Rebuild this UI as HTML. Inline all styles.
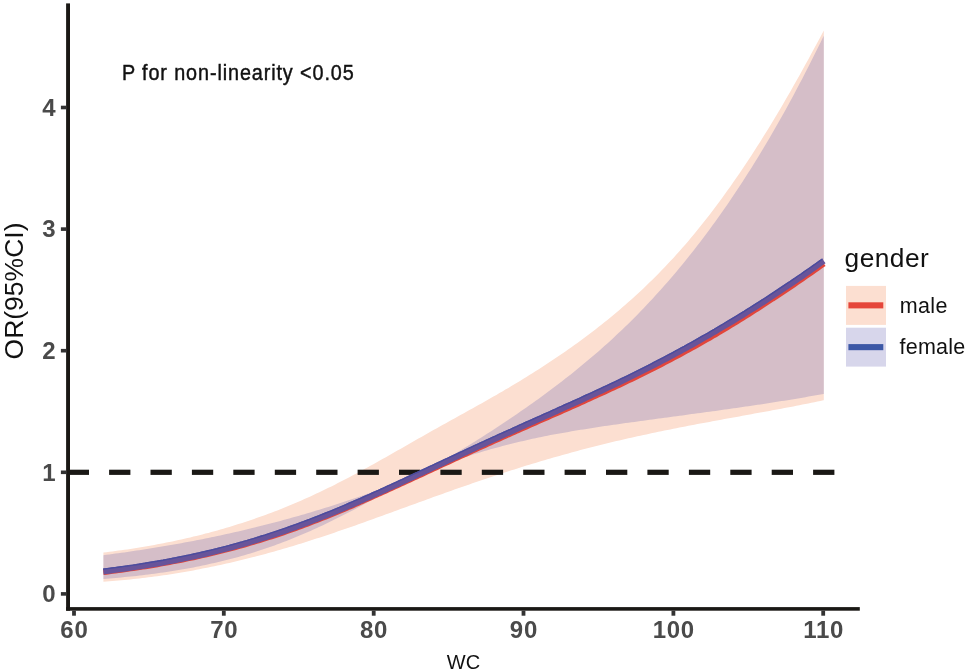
<!DOCTYPE html>
<html lang="en"><head><meta charset="utf-8"><title>OR(95%CI) by WC and gender</title>
<style>html,body{margin:0;padding:0;background:#fff}body{width:967px;height:672px;overflow:hidden}</style>
</head><body>
<svg width="967" height="672" viewBox="0 0 967 672" style="display:block;font-family:'Liberation Sans', Arial, Helvetica, sans-serif">
<rect width="967" height="672" fill="#fff"/>
<polygon points="103.4,552.6 106.4,552.2 109.4,551.8 112.4,551.5 115.4,551.1 118.4,550.6 121.4,550.2 124.4,549.8 127.4,549.4 130.4,548.9 133.4,548.4 136.4,548.0 139.4,547.5 142.4,547.0 145.4,546.5 148.4,546.0 151.4,545.4 154.4,544.9 157.4,544.3 160.4,543.8 163.4,543.2 166.4,542.6 169.4,542.0 172.4,541.4 175.4,540.7 178.4,540.1 181.4,539.4 184.4,538.7 187.4,538.1 190.4,537.4 193.4,536.6 196.4,535.9 199.4,535.2 202.4,534.4 205.4,533.6 208.4,532.9 211.4,532.1 214.4,531.2 217.4,530.4 220.4,529.6 223.4,528.7 226.4,527.8 229.4,526.9 232.4,526.0 235.4,525.1 238.4,524.1 241.4,523.2 244.4,522.2 247.4,521.2 250.4,520.2 253.4,519.2 256.4,518.1 259.4,517.1 262.4,516.0 265.4,514.9 268.4,513.8 271.4,512.7 274.4,511.5 277.4,510.4 280.4,509.2 283.4,508.0 286.4,506.8 289.4,505.5 292.4,504.3 295.4,503.0 298.4,501.7 301.4,500.4 304.4,499.1 307.4,497.7 310.4,496.4 313.4,495.0 316.4,493.6 319.4,492.2 322.4,490.7 325.4,489.3 328.4,487.8 331.4,486.4 334.4,484.9 337.4,483.3 340.4,481.8 343.4,480.3 346.4,478.7 349.4,477.2 352.4,475.6 355.4,474.0 358.4,472.4 361.4,470.7 364.4,469.1 367.4,467.5 370.4,465.8 373.4,464.2 376.4,462.5 379.4,460.8 382.4,459.1 385.4,457.4 388.4,455.7 391.4,454.0 394.4,452.3 397.4,450.6 400.4,448.9 403.4,447.2 406.4,445.4 409.4,443.7 412.4,442.0 415.4,440.3 418.4,438.6 421.4,436.9 424.4,435.2 427.4,433.5 430.4,431.8 433.4,430.1 436.4,428.4 439.4,426.8 442.4,425.1 445.4,423.4 448.4,421.8 451.4,420.1 454.4,418.4 457.4,416.8 460.4,415.1 463.4,413.4 466.4,411.8 469.4,410.1 472.4,408.4 475.4,406.8 478.4,405.1 481.4,403.4 484.4,401.7 487.4,400.0 490.4,398.3 493.4,396.6 496.4,394.9 499.4,393.1 502.4,391.4 505.4,389.6 508.4,387.9 511.4,386.1 514.4,384.3 517.4,382.5 520.4,380.7 523.4,378.8 526.4,377.0 529.4,375.1 532.4,373.2 535.4,371.3 538.4,369.4 541.4,367.5 544.4,365.5 547.4,363.6 550.4,361.6 553.4,359.6 556.4,357.6 559.4,355.5 562.4,353.5 565.4,351.4 568.4,349.3 571.4,347.2 574.4,345.0 577.4,342.9 580.4,340.7 583.4,338.5 586.4,336.2 589.4,334.0 592.4,331.7 595.4,329.4 598.4,327.0 601.4,324.7 604.4,322.3 607.4,319.9 610.4,317.4 613.4,314.9 616.4,312.4 619.4,309.9 622.4,307.3 625.4,304.7 628.4,302.1 631.4,299.4 634.4,296.7 637.4,294.0 640.4,291.2 643.4,288.4 646.4,285.5 649.4,282.6 652.4,279.7 655.4,276.7 658.4,273.7 661.4,270.6 664.4,267.5 667.4,264.3 670.4,261.1 673.4,257.9 676.4,254.6 679.4,251.2 682.4,247.8 685.4,244.4 688.4,240.9 691.4,237.3 694.4,233.7 697.4,230.0 700.4,226.3 703.4,222.6 706.4,218.8 709.4,214.9 712.4,211.0 715.4,207.0 718.4,203.0 721.4,198.9 724.4,194.8 727.4,190.6 730.4,186.4 733.4,182.1 736.4,177.8 739.4,173.4 742.4,169.0 745.4,164.5 748.4,160.0 751.4,155.4 754.4,150.8 757.4,146.1 760.4,141.4 763.4,136.6 766.4,131.7 769.4,126.9 772.4,121.9 775.4,117.0 778.4,111.9 781.4,106.9 784.4,101.7 787.4,96.6 790.4,91.4 793.4,86.1 796.4,80.8 799.4,75.5 802.4,70.1 805.4,64.6 808.4,59.2 811.4,53.6 814.4,48.1 817.4,42.5 820.4,36.9 823.4,31.2 823.8,30.5 823.8,400.2 823.4,400.3 820.4,400.9 817.4,401.5 814.4,402.2 811.4,402.8 808.4,403.4 805.4,404.0 802.4,404.6 799.4,405.2 796.4,405.8 793.4,406.4 790.4,406.9 787.4,407.5 784.4,408.1 781.4,408.7 778.4,409.2 775.4,409.8 772.4,410.3 769.4,410.9 766.4,411.4 763.4,412.0 760.4,412.5 757.4,413.1 754.4,413.6 751.4,414.2 748.4,414.7 745.4,415.3 742.4,415.8 739.4,416.4 736.4,416.9 733.4,417.5 730.4,418.0 727.4,418.6 724.4,419.1 721.4,419.7 718.4,420.2 715.4,420.8 712.4,421.3 709.4,421.9 706.4,422.4 703.4,423.0 700.4,423.5 697.4,424.1 694.4,424.7 691.4,425.3 688.4,425.8 685.4,426.4 682.4,427.0 679.4,427.6 676.4,428.2 673.4,428.8 670.4,429.4 667.4,430.0 664.4,430.6 661.4,431.2 658.4,431.8 655.4,432.5 652.4,433.1 649.4,433.7 646.4,434.4 643.4,435.0 640.4,435.7 637.4,436.3 634.4,437.0 631.4,437.7 628.4,438.3 625.4,439.0 622.4,439.7 619.4,440.4 616.4,441.1 613.4,441.8 610.4,442.5 607.4,443.3 604.4,444.0 601.4,444.7 598.4,445.5 595.4,446.2 592.4,447.0 589.4,447.8 586.4,448.5 583.4,449.3 580.4,450.1 577.4,450.9 574.4,451.7 571.4,452.5 568.4,453.4 565.4,454.2 562.4,455.0 559.4,455.9 556.4,456.7 553.4,457.6 550.4,458.4 547.4,459.3 544.4,460.2 541.4,461.1 538.4,462.0 535.4,462.9 532.4,463.8 529.4,464.7 526.4,465.6 523.4,466.5 520.4,467.5 517.4,468.4 514.4,469.4 511.4,470.3 508.4,471.3 505.4,472.3 502.4,473.2 499.4,474.2 496.4,475.2 493.4,476.2 490.4,477.2 487.4,478.2 484.4,479.2 481.4,480.3 478.4,481.3 475.4,482.3 472.4,483.3 469.4,484.4 466.4,485.4 463.4,486.5 460.4,487.5 457.4,488.6 454.4,489.6 451.4,490.7 448.4,491.8 445.4,492.8 442.4,493.9 439.4,495.0 436.4,496.1 433.4,497.1 430.4,498.2 427.4,499.3 424.4,500.4 421.4,501.5 418.4,502.6 415.4,503.7 412.4,504.8 409.4,505.8 406.4,506.9 403.4,508.0 400.4,509.1 397.4,510.2 394.4,511.3 391.4,512.4 388.4,513.5 385.4,514.6 382.4,515.7 379.4,516.8 376.4,517.8 373.4,518.9 370.4,520.0 367.4,521.1 364.4,522.2 361.4,523.2 358.4,524.3 355.4,525.4 352.4,526.4 349.4,527.5 346.4,528.5 343.4,529.6 340.4,530.6 337.4,531.6 334.4,532.7 331.4,533.7 328.4,534.7 325.4,535.7 322.4,536.7 319.4,537.7 316.4,538.6 313.4,539.6 310.4,540.6 307.4,541.5 304.4,542.5 301.4,543.4 298.4,544.3 295.4,545.3 292.4,546.2 289.4,547.1 286.4,548.0 283.4,548.8 280.4,549.7 277.4,550.6 274.4,551.4 271.4,552.2 268.4,553.1 265.4,553.9 262.4,554.7 259.4,555.5 256.4,556.3 253.4,557.1 250.4,557.8 247.4,558.6 244.4,559.3 241.4,560.1 238.4,560.8 235.4,561.5 232.4,562.2 229.4,562.9 226.4,563.6 223.4,564.2 220.4,564.9 217.4,565.6 214.4,566.2 211.4,566.8 208.4,567.4 205.4,568.0 202.4,568.6 199.4,569.2 196.4,569.8 193.4,570.4 190.4,570.9 187.4,571.4 184.4,572.0 181.4,572.5 178.4,573.0 175.4,573.5 172.4,573.9 169.4,574.4 166.4,574.9 163.4,575.3 160.4,575.7 157.4,576.2 154.4,576.6 151.4,577.0 148.4,577.3 145.4,577.7 142.4,578.1 139.4,578.4 136.4,578.8 133.4,579.1 130.4,579.4 127.4,579.7 124.4,580.0 121.4,580.3 118.4,580.6 115.4,580.8 112.4,581.1 109.4,581.3 106.4,581.6 103.4,581.8" fill="#fcdfd1"/>
<polygon points="103.4,555.2 106.4,554.8 109.4,554.4 112.4,554.0 115.4,553.6 118.4,553.2 121.4,552.8 124.4,552.4 127.4,552.0 130.4,551.5 133.4,551.1 136.4,550.6 139.4,550.2 142.4,549.7 145.4,549.3 148.4,548.8 151.4,548.3 154.4,547.8 157.4,547.3 160.4,546.8 163.4,546.3 166.4,545.8 169.4,545.3 172.4,544.8 175.4,544.3 178.4,543.7 181.4,543.2 184.4,542.6 187.4,542.1 190.4,541.5 193.4,540.9 196.4,540.3 199.4,539.7 202.4,539.2 205.4,538.5 208.4,537.9 211.4,537.3 214.4,536.7 217.4,536.1 220.4,535.4 223.4,534.8 226.4,534.1 229.4,533.4 232.4,532.8 235.4,532.1 238.4,531.4 241.4,530.7 244.4,530.0 247.4,529.3 250.4,528.6 253.4,527.8 256.4,527.1 259.4,526.3 262.4,525.6 265.4,524.8 268.4,524.1 271.4,523.3 274.4,522.5 277.4,521.7 280.4,520.9 283.4,520.1 286.4,519.3 289.4,518.4 292.4,517.6 295.4,516.8 298.4,515.9 301.4,515.0 304.4,514.2 307.4,513.3 310.4,512.4 313.4,511.5 316.4,510.6 319.4,509.7 322.4,508.8 325.4,507.8 328.4,506.9 331.4,505.9 334.4,505.0 337.4,504.0 340.4,503.0 343.4,502.0 346.4,501.0 349.4,500.0 352.4,499.0 355.4,498.0 358.4,496.9 361.4,495.9 364.4,494.9 367.4,493.8 370.4,492.7 373.4,491.6 376.4,490.6 379.4,489.5 382.4,488.3 385.4,487.2 388.4,486.1 391.4,485.0 394.4,483.8 397.4,482.7 400.4,481.5 403.4,480.3 406.4,479.1 409.4,477.9 412.4,476.7 415.4,475.5 418.4,474.2 421.4,472.9 424.4,471.5 427.4,469.8 430.4,468.1 433.4,466.4 436.4,464.7 439.4,463.0 442.4,461.2 445.4,459.4 448.4,457.7 451.4,455.9 454.4,454.1 457.4,452.3 460.4,450.5 463.4,448.6 466.4,446.8 469.4,445.0 472.4,443.1 475.4,441.2 478.4,439.3 481.4,437.4 484.4,435.5 487.4,433.6 490.4,431.7 493.4,429.7 496.4,427.8 499.4,425.8 502.4,423.8 505.4,421.8 508.4,419.8 511.4,417.8 514.4,415.8 517.4,413.7 520.4,411.6 523.4,409.6 526.4,407.5 529.4,405.3 532.4,403.2 535.4,401.1 538.4,398.9 541.4,396.7 544.4,394.5 547.4,392.3 550.4,390.1 553.4,387.8 556.4,385.6 559.4,383.3 562.4,380.9 565.4,378.6 568.4,376.3 571.4,373.9 574.4,371.5 577.4,369.1 580.4,366.6 583.4,364.1 586.4,361.6 589.4,359.1 592.4,356.6 595.4,354.0 598.4,351.4 601.4,348.8 604.4,346.1 607.4,343.4 610.4,340.7 613.4,337.9 616.4,335.1 619.4,332.3 622.4,329.5 625.4,326.6 628.4,323.7 631.4,320.7 634.4,317.7 637.4,314.7 640.4,311.6 643.4,308.5 646.4,305.3 649.4,302.1 652.4,298.9 655.4,295.6 658.4,292.3 661.4,289.0 664.4,285.6 667.4,282.2 670.4,278.7 673.4,275.2 676.4,271.7 679.4,268.1 682.4,264.4 685.4,260.7 688.4,257.0 691.4,253.2 694.4,249.4 697.4,245.6 700.4,241.7 703.4,237.7 706.4,233.7 709.4,229.7 712.4,225.6 715.4,221.4 718.4,217.3 721.4,213.0 724.4,208.7 727.4,204.4 730.4,200.0 733.4,195.6 736.4,191.1 739.4,186.5 742.4,181.9 745.4,177.3 748.4,172.6 751.4,167.9 754.4,163.0 757.4,158.2 760.4,153.3 763.4,148.3 766.4,143.3 769.4,138.2 772.4,133.0 775.4,127.8 778.4,122.6 781.4,117.3 784.4,111.9 787.4,106.5 790.4,101.0 793.4,95.4 796.4,89.8 799.4,84.1 802.4,78.4 805.4,72.6 808.4,66.7 811.4,60.8 814.4,54.8 817.4,48.8 820.4,42.7 823.4,36.5 823.8,35.7 823.8,393.9 823.4,393.9 820.4,394.5 817.4,395.0 814.4,395.6 811.4,396.1 808.4,396.6 805.4,397.2 802.4,397.7 799.4,398.2 796.4,398.7 793.4,399.2 790.4,399.7 787.4,400.2 784.4,400.7 781.4,401.1 778.4,401.6 775.4,402.1 772.4,402.6 769.4,403.0 766.4,403.5 763.4,403.9 760.4,404.4 757.4,404.8 754.4,405.3 751.4,405.7 748.4,406.2 745.4,406.6 742.4,407.0 739.4,407.5 736.4,407.9 733.4,408.3 730.4,408.8 727.4,409.2 724.4,409.6 721.4,410.0 718.4,410.4 715.4,410.9 712.4,411.3 709.4,411.7 706.4,412.1 703.4,412.5 700.4,412.9 697.4,413.3 694.4,413.7 691.4,414.1 688.4,414.5 685.4,414.9 682.4,415.4 679.4,415.8 676.4,416.2 673.4,416.6 670.4,417.0 667.4,417.4 664.4,417.8 661.4,418.2 658.4,418.6 655.4,419.0 652.4,419.4 649.4,419.8 646.4,420.2 643.4,420.7 640.4,421.1 637.4,421.5 634.4,421.9 631.4,422.3 628.4,422.7 625.4,423.1 622.4,423.6 619.4,424.0 616.4,424.4 613.4,424.8 610.4,425.3 607.4,425.7 604.4,426.1 601.4,426.6 598.4,427.0 595.4,427.5 592.4,427.9 589.4,428.4 586.4,428.9 583.4,429.4 580.4,429.8 577.4,430.3 574.4,430.8 571.4,431.3 568.4,431.9 565.4,432.4 562.4,432.9 559.4,433.5 556.4,434.0 553.4,434.6 550.4,435.1 547.4,435.7 544.4,436.3 541.4,436.9 538.4,437.6 535.4,438.2 532.4,438.8 529.4,439.5 526.4,440.2 523.4,440.9 520.4,441.6 517.4,442.3 514.4,443.0 511.4,443.7 508.4,444.5 505.4,445.3 502.4,446.1 499.4,446.9 496.4,447.7 493.4,448.5 490.4,449.3 487.4,450.2 484.4,451.1 481.4,452.0 478.4,452.9 475.4,453.8 472.4,454.7 469.4,455.7 466.4,456.7 463.4,457.6 460.4,458.6 457.4,459.7 454.4,460.7 451.4,461.7 448.4,462.8 445.4,463.9 442.4,464.9 439.4,466.0 436.4,467.2 433.4,468.3 430.4,469.4 427.4,470.6 424.4,471.7 421.4,473.1 418.4,474.7 415.4,476.3 412.4,477.9 409.4,479.5 406.4,481.1 403.4,482.7 400.4,484.4 397.4,486.0 394.4,487.6 391.4,489.3 388.4,490.9 385.4,492.6 382.4,494.2 379.4,495.9 376.4,497.5 373.4,499.2 370.4,500.8 367.4,502.4 364.4,504.0 361.4,505.7 358.4,507.3 355.4,508.9 352.4,510.4 349.4,512.0 346.4,513.6 343.4,515.1 340.4,516.6 337.4,518.1 334.4,519.6 331.4,521.1 328.4,522.6 325.4,524.0 322.4,525.4 319.4,526.8 316.4,528.2 313.4,529.6 310.4,530.9 307.4,532.2 304.4,533.6 301.4,534.8 298.4,536.1 295.4,537.3 292.4,538.6 289.4,539.8 286.4,540.9 283.4,542.1 280.4,543.2 277.4,544.3 274.4,545.4 271.4,546.5 268.4,547.5 265.4,548.6 262.4,549.6 259.4,550.6 256.4,551.5 253.4,552.5 250.4,553.4 247.4,554.3 244.4,555.2 241.4,556.0 238.4,556.9 235.4,557.7 232.4,558.5 229.4,559.3 226.4,560.1 223.4,560.8 220.4,561.6 217.4,562.3 214.4,563.0 211.4,563.6 208.4,564.3 205.4,565.0 202.4,565.6 199.4,566.2 196.4,566.8 193.4,567.4 190.4,567.9 187.4,568.5 184.4,569.0 181.4,569.6 178.4,570.1 175.4,570.6 172.4,571.0 169.4,571.5 166.4,572.0 163.4,572.4 160.4,572.8 157.4,573.3 154.4,573.7 151.4,574.1 148.4,574.4 145.4,574.8 142.4,575.2 139.4,575.5 136.4,575.9 133.4,576.2 130.4,576.5 127.4,576.8 124.4,577.1 121.4,577.4 118.4,577.7 115.4,578.0 112.4,578.2 109.4,578.5 106.4,578.7 103.4,579.0" fill="rgb(95,92,176)" fill-opacity="0.25"/>
<g fill="#1a1815"><rect x="67.7" y="469.7" width="21.3" height="5.2"/><rect x="109.1" y="469.7" width="21.3" height="5.2"/><rect x="150.5" y="469.7" width="21.3" height="5.2"/><rect x="191.9" y="469.7" width="21.3" height="5.2"/><rect x="233.3" y="469.7" width="21.3" height="5.2"/><rect x="274.8" y="469.7" width="21.3" height="5.2"/><rect x="316.2" y="469.7" width="21.3" height="5.2"/><rect x="357.6" y="469.7" width="21.3" height="5.2"/><rect x="399.0" y="469.7" width="21.3" height="5.2"/><rect x="440.4" y="469.7" width="21.3" height="5.2"/><rect x="481.8" y="469.7" width="21.3" height="5.2"/><rect x="523.2" y="469.7" width="21.3" height="5.2"/><rect x="564.6" y="469.7" width="21.3" height="5.2"/><rect x="606.0" y="469.7" width="21.3" height="5.2"/><rect x="647.4" y="469.7" width="21.3" height="5.2"/><rect x="688.9" y="469.7" width="21.3" height="5.2"/><rect x="730.3" y="469.7" width="21.3" height="5.2"/><rect x="771.7" y="469.7" width="21.3" height="5.2"/><rect x="813.1" y="469.7" width="21.3" height="5.2"/></g>
<polyline points="103.4,572.0 106.4,571.7 109.4,571.3 112.4,570.9 115.4,570.5 118.4,570.1 121.4,569.7 124.4,569.3 127.4,568.9 130.4,568.4 133.4,568.0 136.4,567.6 139.4,567.1 142.4,566.6 145.4,566.2 148.4,565.7 151.4,565.2 154.4,564.7 157.4,564.2 160.4,563.6 163.4,563.1 166.4,562.6 169.4,562.0 172.4,561.4 175.4,560.9 178.4,560.3 181.4,559.7 184.4,559.1 187.4,558.4 190.4,557.8 193.4,557.2 196.4,556.5 199.4,555.9 202.4,555.2 205.4,554.5 208.4,553.8 211.4,553.1 214.4,552.4 217.4,551.6 220.4,550.9 223.4,550.1 226.4,549.4 229.4,548.6 232.4,547.8 235.4,547.0 238.4,546.2 241.4,545.3 244.4,544.5 247.4,543.6 250.4,542.7 253.4,541.9 256.4,541.0 259.4,540.1 262.4,539.1 265.4,538.2 268.4,537.2 271.4,536.3 274.4,535.3 277.4,534.3 280.4,533.3 283.4,532.3 286.4,531.2 289.4,530.2 292.4,529.1 295.4,528.1 298.4,527.0 301.4,525.9 304.4,524.8 307.4,523.6 310.4,522.5 313.4,521.3 316.4,520.2 319.4,519.0 322.4,517.8 325.4,516.6 328.4,515.4 331.4,514.2 334.4,513.0 337.4,511.7 340.4,510.5 343.4,509.2 346.4,507.9 349.4,506.6 352.4,505.4 355.4,504.1 358.4,502.8 361.4,501.4 364.4,500.1 367.4,498.8 370.4,497.5 373.4,496.1 376.4,494.8 379.4,493.4 382.4,492.1 385.4,490.7 388.4,489.3 391.4,488.0 394.4,486.6 397.4,485.2 400.4,483.8 403.4,482.5 406.4,481.1 409.4,479.7 412.4,478.3 415.4,476.9 418.4,475.6 421.4,474.2 424.4,472.8 427.4,471.4 430.4,470.0 433.4,468.6 436.4,467.2 439.4,465.8 442.4,464.4 445.4,463.0 448.4,461.7 451.4,460.3 454.4,458.9 457.4,457.5 460.4,456.1 463.4,454.7 466.4,453.4 469.4,452.0 472.4,450.6 475.4,449.3 478.4,447.9 481.4,446.5 484.4,445.2 487.4,443.8 490.4,442.5 493.4,441.1 496.4,439.8 499.4,438.5 502.4,437.1 505.4,435.8 508.4,434.4 511.4,433.1 514.4,431.8 517.4,430.4 520.4,429.1 523.4,427.8 526.4,426.5 529.4,425.1 532.4,423.8 535.4,422.5 538.4,421.1 541.4,419.8 544.4,418.5 547.4,417.2 550.4,415.8 553.4,414.5 556.4,413.2 559.4,411.9 562.4,410.5 565.4,409.2 568.4,407.9 571.4,406.6 574.4,405.2 577.4,403.9 580.4,402.5 583.4,401.2 586.4,399.8 589.4,398.5 592.4,397.1 595.4,395.8 598.4,394.4 601.4,393.0 604.4,391.7 607.4,390.3 610.4,388.9 613.4,387.5 616.4,386.1 619.4,384.7 622.4,383.3 625.4,381.8 628.4,380.4 631.4,379.0 634.4,377.5 637.4,376.0 640.4,374.6 643.4,373.1 646.4,371.6 649.4,370.1 652.4,368.6 655.4,367.0 658.4,365.5 661.4,364.0 664.4,362.4 667.4,360.9 670.4,359.3 673.4,357.7 676.4,356.1 679.4,354.5 682.4,352.9 685.4,351.2 688.4,349.6 691.4,347.9 694.4,346.3 697.4,344.6 700.4,342.9 703.4,341.2 706.4,339.5 709.4,337.8 712.4,336.0 715.4,334.3 718.4,332.5 721.4,330.7 724.4,328.9 727.4,327.1 730.4,325.3 733.4,323.4 736.4,321.6 739.4,319.7 742.4,317.9 745.4,316.0 748.4,314.1 751.4,312.2 754.4,310.3 757.4,308.4 760.4,306.4 763.4,304.5 766.4,302.6 769.4,300.6 772.4,298.6 775.4,296.7 778.4,294.7 781.4,292.7 784.4,290.7 787.4,288.7 790.4,286.7 793.4,284.7 796.4,282.6 799.4,280.6 802.4,278.5 805.4,276.4 808.4,274.3 811.4,272.3 814.4,270.1 817.4,268.0 820.4,265.9 823.4,263.8 823.8,263.5" fill="none" stroke="#e2463b" stroke-width="6"/>
<polyline points="103.4,571.4 106.4,571.1 109.4,570.7 112.4,570.3 115.4,569.9 118.4,569.5 121.4,569.1 124.4,568.7 127.4,568.3 130.4,567.8 133.4,567.4 136.4,566.9 139.4,566.5 142.4,566.0 145.4,565.5 148.4,565.0 151.4,564.5 154.4,564.0 157.4,563.5 160.4,563.0 163.4,562.5 166.4,561.9 169.4,561.3 172.4,560.8 175.4,560.2 178.4,559.6 181.4,559.0 184.4,558.4 187.4,557.8 190.4,557.1 193.4,556.5 196.4,555.8 199.4,555.2 202.4,554.5 205.4,553.8 208.4,553.1 211.4,552.4 214.4,551.6 217.4,550.9 220.4,550.1 223.4,549.4 226.4,548.6 229.4,547.8 232.4,547.0 235.4,546.2 238.4,545.3 241.4,544.5 244.4,543.6 247.4,542.8 250.4,541.9 253.4,541.0 256.4,540.1 259.4,539.1 262.4,538.2 265.4,537.3 268.4,536.3 271.4,535.3 274.4,534.3 277.4,533.3 280.4,532.3 283.4,531.3 286.4,530.3 289.4,529.2 292.4,528.1 295.4,527.1 298.4,526.0 301.4,524.9 304.4,523.8 307.4,522.6 310.4,521.5 313.4,520.3 316.4,519.2 319.4,518.0 322.4,516.8 325.4,515.6 328.4,514.4 331.4,513.2 334.4,512.0 337.4,510.7 340.4,509.5 343.4,508.2 346.4,506.9 349.4,505.6 352.4,504.4 355.4,503.1 358.4,501.8 361.4,500.4 364.4,499.1 367.4,497.8 370.4,496.5 373.4,495.1 376.4,493.8 379.4,492.4 382.4,491.1 385.4,489.7 388.4,488.3 391.4,486.9 394.4,485.6 397.4,484.2 400.4,482.8 403.4,481.4 406.4,480.0 409.4,478.6 412.4,477.2 415.4,475.8 418.4,474.4 421.4,473.0 424.4,471.6 427.4,470.2 430.4,468.8 433.4,467.4 436.4,466.0 439.4,464.6 442.4,463.2 445.4,461.8 448.4,460.4 451.4,459.0 454.4,457.6 457.4,456.2 460.4,454.8 463.4,453.4 466.4,452.0 469.4,450.6 472.4,449.2 475.4,447.8 478.4,446.4 481.4,445.0 484.4,443.7 487.4,442.3 490.4,440.9 493.4,439.5 496.4,438.2 499.4,436.8 502.4,435.4 505.4,434.1 508.4,432.7 511.4,431.4 514.4,430.0 517.4,428.7 520.4,427.3 523.4,426.0 526.4,424.6 529.4,423.3 532.4,421.9 535.4,420.6 538.4,419.2 541.4,417.9 544.4,416.5 547.4,415.2 550.4,413.9 553.4,412.5 556.4,411.2 559.4,409.8 562.4,408.5 565.4,407.1 568.4,405.8 571.4,404.4 574.4,403.1 577.4,401.7 580.4,400.4 583.4,399.0 586.4,397.6 589.4,396.3 592.4,394.9 595.4,393.5 598.4,392.1 601.4,390.7 604.4,389.3 607.4,387.9 610.4,386.5 613.4,385.1 616.4,383.7 619.4,382.2 622.4,380.8 625.4,379.3 628.4,377.9 631.4,376.4 634.4,374.9 637.4,373.4 640.4,371.9 643.4,370.4 646.4,368.9 649.4,367.4 652.4,365.8 655.4,364.3 658.4,362.7 661.4,361.2 664.4,359.6 667.4,358.0 670.4,356.4 673.4,354.8 676.4,353.2 679.4,351.6 682.4,349.9 685.4,348.3 688.4,346.6 691.4,345.0 694.4,343.3 697.4,341.6 700.4,339.9 703.4,338.2 706.4,336.5 709.4,334.8 712.4,333.0 715.4,331.3 718.4,329.5 721.4,327.7 724.4,326.0 727.4,324.2 730.4,322.4 733.4,320.6 736.4,318.7 739.4,316.9 742.4,315.1 745.4,313.2 748.4,311.3 751.4,309.5 754.4,307.6 757.4,305.7 760.4,303.8 763.4,301.9 766.4,299.9 769.4,298.0 772.4,296.0 775.4,294.1 778.4,292.1 781.4,290.1 784.4,288.1 787.4,286.1 790.4,284.1 793.4,282.0 796.4,280.0 799.4,277.9 802.4,275.9 805.4,273.8 808.4,271.7 811.4,269.6 814.4,267.5 817.4,265.4 820.4,263.2 823.4,261.1 823.8,260.8" fill="none" stroke="#68549a" stroke-width="6"/>
<polyline points="103.1,569.1 106.1,568.8 109.1,568.4 112.1,568.0 115.1,567.6 118.1,567.2 121.1,566.8 124.1,566.4 127.1,566.0 130.1,565.6 133.1,565.1 136.1,564.7 139.0,564.2 142.0,563.7 145.0,563.3 148.0,562.8 151.0,562.3 154.0,561.8 157.0,561.3 160.0,560.7 163.0,560.2 166.0,559.6 169.0,559.1 172.0,558.5 175.0,557.9 178.0,557.3 180.9,556.7 183.9,556.1 186.9,555.5 189.9,554.9 192.9,554.2 195.9,553.6 198.9,552.9 201.9,552.2 204.9,551.5 207.9,550.8 210.9,550.1 213.9,549.4 216.8,548.7 219.8,547.9 222.8,547.1 225.8,546.4 228.8,545.6 231.8,544.8 234.8,543.9 237.8,543.1 240.8,542.3 243.8,541.4 246.8,540.6 249.7,539.7 252.7,538.8 255.7,537.9 258.7,537.0 261.7,536.0 264.7,535.1 267.7,534.1 270.7,533.1 273.7,532.2 276.7,531.2 279.7,530.1 282.7,529.1 285.6,528.1 288.6,527.0 291.6,526.0 294.6,524.9 297.6,523.8 300.6,522.7 303.6,521.6 306.6,520.5 309.6,519.3 312.6,518.2 315.6,517.0 318.6,515.9 321.6,514.7 324.5,513.5 327.5,512.3 330.5,511.1 333.5,509.8 336.5,508.6 339.5,507.3 342.5,506.1 345.5,504.8 348.5,503.5 351.5,502.2 354.5,500.9 357.5,499.6 360.5,498.3 363.5,497.0 366.5,495.7 369.5,494.4 372.5,493.0 375.5,491.7 378.5,490.3 381.4,489.0 384.4,487.6 387.4,486.2 390.4,484.9 393.4,483.5 396.4,482.1 399.4,480.7 402.4,479.3 405.4,477.9 408.4,476.5 411.4,475.1 414.4,473.7 417.4,472.3 420.4,470.9 423.4,469.5 426.4,468.1 429.4,466.7 432.4,465.3 435.4,463.9 438.4,462.5 441.4,461.1 444.4,459.7 447.4,458.3 450.4,456.9 453.4,455.5 456.4,454.1 459.4,452.7 462.4,451.3 465.4,449.9 468.4,448.5 471.4,447.1 474.4,445.7 477.4,444.3 480.4,442.9 483.4,441.6 486.4,440.2 489.4,438.8 492.4,437.4 495.4,436.1 498.4,434.7 501.4,433.3 504.5,432.0 507.5,430.6 510.5,429.3 513.5,427.9 516.5,426.6 519.5,425.2 522.5,423.9 525.5,422.5 528.5,421.2 531.5,419.8 534.5,418.5 537.5,417.1 540.5,415.8 543.5,414.4 546.5,413.1 549.5,411.8 552.5,410.4 555.5,409.1 558.5,407.7 561.5,406.4 564.5,405.0 567.5,403.7 570.5,402.3 573.5,401.0 576.5,399.6 579.4,398.3 582.4,396.9 585.4,395.5 588.4,394.2 591.4,392.8 594.4,391.4 597.4,390.0 600.4,388.6 603.4,387.2 606.4,385.8 609.4,384.4 612.4,383.0 615.4,381.6 618.4,380.2 621.4,378.7 624.4,377.3 627.4,375.8 630.4,374.3 633.4,372.9 636.4,371.4 639.4,369.9 642.4,368.4 645.4,366.9 648.4,365.3 651.3,363.8 654.3,362.2 657.3,360.7 660.3,359.1 663.3,357.6 666.3,356.0 669.3,354.4 672.3,352.8 675.3,351.2 678.3,349.5 681.3,347.9 684.3,346.3 687.3,344.6 690.3,343.0 693.3,341.3 696.3,339.6 699.3,337.9 702.3,336.2 705.3,334.5 708.3,332.8 711.2,331.0 714.2,329.3 717.2,327.5 720.2,325.8 723.2,324.0 726.2,322.2 729.2,320.4 732.2,318.6 735.2,316.8 738.2,315.0 741.2,313.1 744.2,311.3 747.2,309.4 750.2,307.5 753.2,305.6 756.2,303.7 759.2,301.8 762.2,299.9 765.2,298.0 768.1,296.1 771.1,294.1 774.1,292.1 777.1,290.2 780.1,288.2 783.1,286.2 786.1,284.2 789.1,282.2 792.1,280.1 795.1,278.1 798.1,276.0 801.1,274.0 804.1,271.9 807.1,269.8 810.1,267.7 813.1,265.6 816.1,263.5 819.1,261.4 822.1,259.2 822.5,258.9" fill="none" stroke="#4a4c9e" stroke-width="1.4"/>
<g fill="#1a1815">
<rect x="66.1" y="3.4" width="3.9" height="607.3"/>
<rect x="66.1" y="607.1" width="793.7" height="3.6"/>
</g>
<g fill="#333">
<rect x="60.9" y="592.1" width="5.3" height="3.6"/>
<rect x="60.9" y="470.5" width="5.3" height="3.6"/>
<rect x="60.9" y="348.9" width="5.3" height="3.6"/>
<rect x="60.9" y="227.3" width="5.3" height="3.6"/>
<rect x="60.9" y="105.7" width="5.3" height="3.6"/>
<rect x="72.1" y="610.6" width="3.8" height="5.1"/>
<rect x="221.9" y="610.6" width="3.8" height="5.1"/>
<rect x="371.8" y="610.6" width="3.8" height="5.1"/>
<rect x="521.6" y="610.6" width="3.8" height="5.1"/>
<rect x="671.5" y="610.6" width="3.8" height="5.1"/>
<rect x="821.3" y="610.6" width="3.8" height="5.1"/>
</g>
<g font-size="24" font-weight="bold" fill="#4a4a4a" letter-spacing="0.7">
<text x="56.2" y="602.2" text-anchor="end">0</text>
<text x="56.2" y="480.6" text-anchor="end">1</text>
<text x="56.2" y="359.0" text-anchor="end">2</text>
<text x="56.2" y="237.4" text-anchor="end">3</text>
<text x="56.2" y="115.8" text-anchor="end">4</text>
<text x="74.4" y="638.2" text-anchor="middle">60</text>
<text x="224.2" y="638.2" text-anchor="middle">70</text>
<text x="374.1" y="638.2" text-anchor="middle">80</text>
<text x="523.9" y="638.2" text-anchor="middle">90</text>
<text x="673.8" y="638.2" text-anchor="middle">100</text>
<text x="823.6" y="638.2" text-anchor="middle">110</text>
</g>
<text x="463.5" y="668.7" font-size="20" text-anchor="middle" fill="#111">WC</text>
<text transform="translate(22.6,291) rotate(-90)" font-size="26.5" text-anchor="middle" fill="#111">OR(95%CI)</text>
<text transform="translate(121.9,79.5) scale(0.9,1)" font-size="22" letter-spacing="1.0" fill="#111" stroke="#111" stroke-width="0.45">P for non-linearity &lt;0.05</text>
<text x="844.6" y="266.9" font-size="26.3" letter-spacing="0.45" fill="#111">gender</text>
<rect x="846" y="285.9" width="40" height="39" fill="#fcdfd1"/>
<rect x="846" y="327.7" width="40" height="38.9" fill="rgb(95,92,176)" fill-opacity="0.25"/>
<rect x="848.4" y="302.3" width="34.9" height="6.1" fill="#e5463a"/>
<rect x="848.4" y="344.1" width="34.9" height="6.1" fill="#3c58a6"/>
<text x="899.7" y="312.7" font-size="21.5" letter-spacing="0.35" fill="#111">male</text>
<text x="899.6" y="354.3" font-size="21.5" letter-spacing="0.2" fill="#111">female</text>
</svg>
</body></html>
